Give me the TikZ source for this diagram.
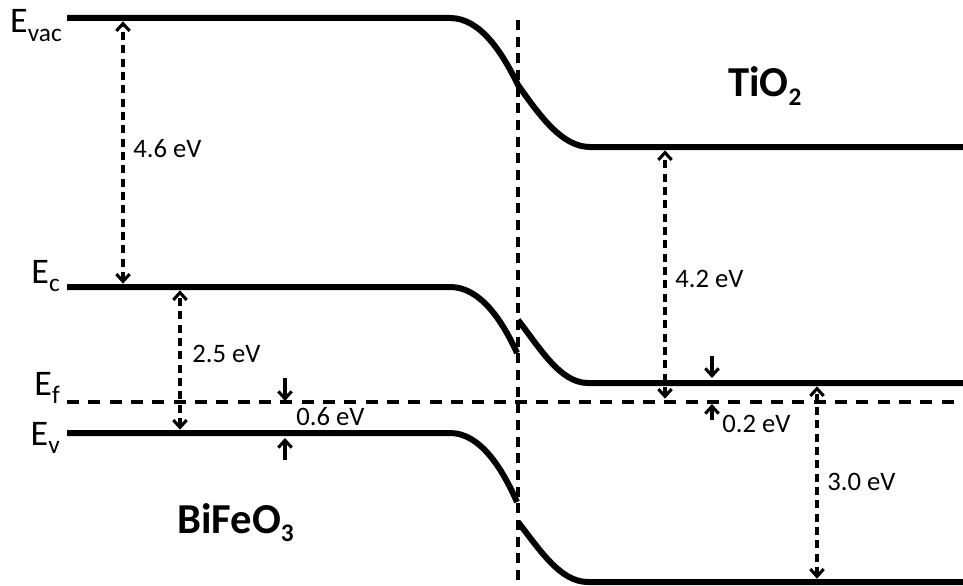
\documentclass[tikz,border=0pt]{standalone}
\usepackage{fontspec}
\setmainfont{Carlito}
\usetikzlibrary{arrows.meta,calc,positioning}
\newcommand{\dn}[1]{\raisebox{-6.5pt}{\fontsize{19pt}{21pt}\selectfont #1}}

\begin{document}
\begin{tikzpicture}[x=0.75pt,y=-0.75pt,
    band/.style={line width=4.5pt},
    fermi/.style={line width=2.4pt,dash pattern=on 9pt off 7pt},
    iface/.style={line width=2.4pt,dash pattern=on 7.5pt off 5pt},
    gap/.style={line width=2.3pt,dash pattern=on 6pt off 4pt,
      {Straight Barb[length=5.5pt,width=10pt]}-{Straight Barb[length=5.5pt,width=10pt]},
      shorten <=2.5pt,shorten >=2.5pt},
    tick/.style={line width=2.3pt,-{Straight Barb[length=5.5pt,width=10pt]}},
    lvl/.style={inner sep=0pt,anchor=base east,font=\fontsize{27pt}{30pt}\selectfont},
    val/.style={inner sep=0pt,anchor=base west,font=\fontsize{20pt}{23pt}\selectfont},
    mat/.style={inner sep=0pt,anchor=base west,font=\fontsize{32pt}{36pt}\selectfont\bfseries}]
  \useasboundingbox (0,0) rectangle (963,585);

  % band edges, bent at the junction
  \draw[band] (67,18) -- (450,18) .. controls (480,18) and (502,52) .. (518,85)
    .. controls (540,116) and (562,147) .. (590,147) -- (963,147);
  \draw[band] (67,287) -- (450,287) .. controls (480,287) and (502,320) .. (517,353);
  \draw[band] (518,320) .. controls (540,348) and (560,383) .. (588,383) -- (963,383);
  \draw[band] (67,433) -- (450,433) .. controls (480,433) and (502,468) .. (517,502);
  \draw[band] (518,522) .. controls (540,550) and (560,582) .. (588,582) -- (963,582);
  \draw[fermi] (67,402) -- (963,402);
  \draw[iface] (518,20) -- (518,585);

  \node[lvl] (Evac) at (62,33) {E\dn{vac}};
  \node[lvl] (Ec) at (60,283) {E\dn{c}};
  \node[lvl] (Ef) at (60,395) {E\dn{f}};
  \node[lvl] (Ev) at (60,445) {E\dn{v}};
  \node[mat] (tio) at (728,97) {TiO\dn{2}};
  \node[mat] (bfo) at (177,533) {BiFeO\dn{3}};

  % gaps on the BiFeO3 side
  \coordinate (vac46) at (123,18);
  \coordinate (c46) at (123,287);
  \coordinate (c25) at (180,287);
  \coordinate (v25) at (180,433);
  \coordinate (f06a) at (285,378);
  \coordinate (f06) at (285,401);
  \coordinate (v06a) at (285,460);
  \coordinate (v06) at (285,438);
  \draw[gap] (c46) -- (vac46);
  \draw[gap] (v25) -- (c25);
  \draw[tick] (f06a) -- (f06);
  \draw[tick] (v06a) -- (v06);
  \node[val] (l46) at (133,157) {4.6 eV};
  \node[val] (l25) at (192,362) {2.5 eV};
  \node[val] (l06) at (296,425) {0.6 eV};

  % gaps on the TiO2 side
  \coordinate (vac42) at (665,147);
  \coordinate (f42) at (665,402);
  \coordinate (c02a) at (712,356);
  \coordinate (c02) at (712,378);
  \coordinate (f02a) at (712,420);
  \coordinate (f02) at (712,404);
  \coordinate (c30) at (817,383);
  \coordinate (v30) at (817,582);
  \draw[gap] (f42) -- (vac42);
  \draw[tick] (c02a) -- (c02);
  \draw[tick] (f02a) -- (f02);
  \draw[gap] (v30) -- (c30);
  \node[val] (l42) at (675,287) {4.2 eV};
  \node[val] (l02) at (722,432) {0.2 eV};
  \node[val] (l30) at (827,490) {3.0 eV};
\end{tikzpicture}
\end{document}
